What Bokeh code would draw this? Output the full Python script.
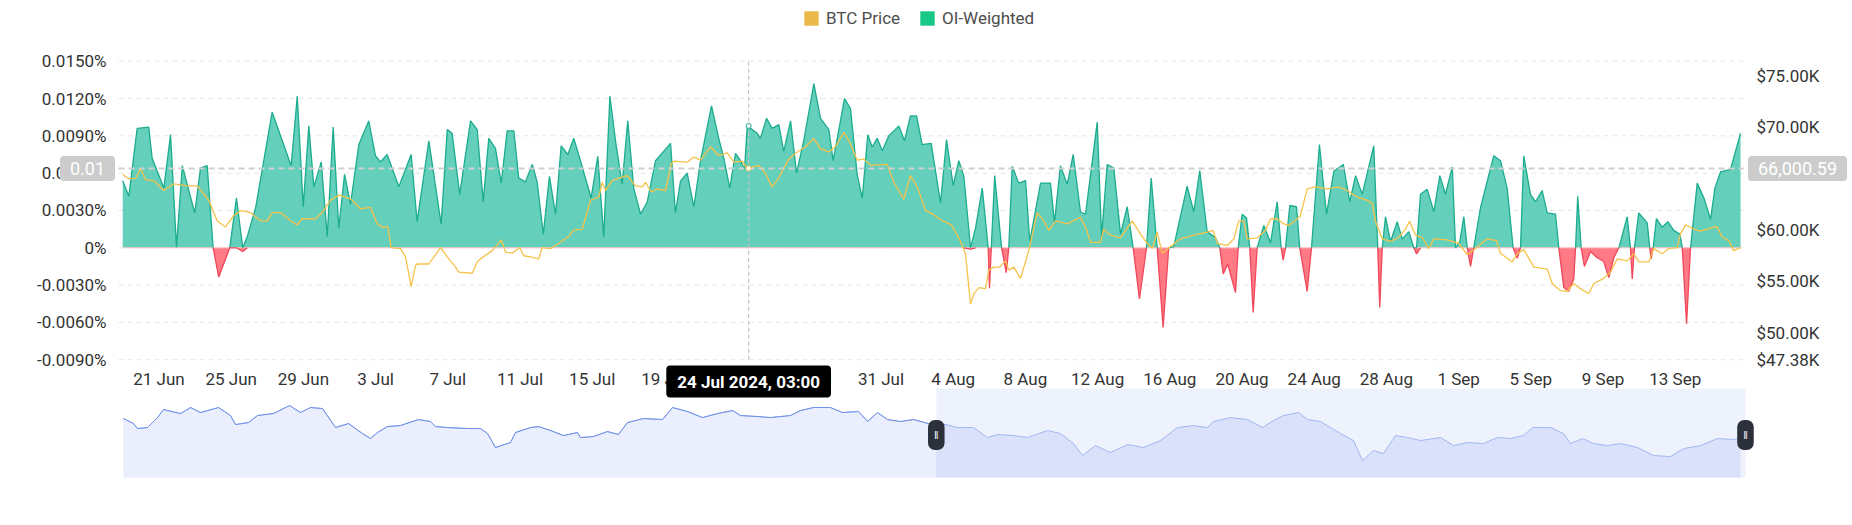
import numpy as np
import pandas as pd
from bokeh.plotting import figure
from bokeh.models import Range1d, Label, Legend, LegendItem, ColumnDataSource
from bokeh.core.properties import value
from bokeh.embed import file_html
from bokeh.resources import INLINE

# ---------------- data ----------------
# OI-weighted funding rate, in units of 0.001 %, at days after 2024-06-21 11:00
oi_day = [-2.01, -1.67, -1.21, -0.57, -0.38, 0.27, 0.64, 0.97, 1.29, 1.98,
          2.30, 2.67, 3.00, 3.31, 3.92, 4.29, 4.64, 4.89, 5.35, 6.27,
          6.83, 7.32, 7.66, 7.99, 8.30, 8.58, 8.99, 9.32, 9.65, 9.96,
          10.28, 10.61, 11.07, 11.62, 11.99, 12.27, 12.64, 13.29, 13.97, 14.30,
          14.95, 15.63, 15.97, 16.24, 16.66, 17.26, 17.63, 17.96, 18.27, 18.64,
          18.96, 19.29, 19.66, 19.93, 20.30, 20.68, 20.95, 21.29, 21.63, 21.97,
          22.28, 22.65, 22.98, 23.35, 23.94, 24.31, 24.64, 24.98, 25.29, 25.66,
          25.97, 26.30, 26.68, 27.05, 27.51, 28.34, 28.61, 28.89, 29.26, 29.63,
          30.00, 30.61, 31.01, 31.29, 31.62, 31.94, 32.22, 32.44, 32.59, 33.14,
          33.32, 33.66, 33.97, 34.34, 34.61, 34.99, 35.32, 35.72, 36.28, 36.65,
          37.11, 37.35, 37.98, 38.31, 38.68, 38.96, 39.27, 39.51, 39.79, 40.07,
          40.43, 40.99, 41.30, 41.63, 41.97, 42.28, 42.78, 43.30, 43.63, 44.00,
          44.31, 44.59, 44.96, 45.24, 45.61, 45.94, 46.01, 46.11, 46.30, 46.68,
          46.94, 47.08, 47.27, 47.63, 48.01, 48.24, 48.84, 49.39, 49.61, 49.94,
          50.32, 50.65, 51.05, 51.33, 51.98, 52.22, 52.53, 52.90, 53.27, 53.64,
          53.97, 54.32, 54.71, 54.97, 55.30, 55.63, 55.94, 56.22, 56.96, 57.33,
          57.66, 58.07, 58.53, 58.77, 58.96, 59.21, 59.64, 59.79, 60.01, 60.25,
          60.43, 60.62, 60.84, 61.21, 61.58, 61.95, 62.17, 62.28, 62.41, 62.65,
          63.02, 63.20, 63.61, 63.85, 64.29, 64.68, 65.09, 65.61, 65.97, 66.29,
          66.66, 67.30, 67.52, 67.63, 67.77, 67.95, 68.23, 68.60, 68.88, 69.24,
          69.52, 69.67, 69.89, 70.26, 70.63, 70.96, 71.27, 71.65, 71.83, 72.07,
          72.29, 72.48, 72.66, 72.84, 73.21, 73.95, 74.32, 74.69, 75.02, 75.25,
          75.43, 75.61, 75.98, 76.26, 76.63, 76.91, 77.37, 77.55, 77.83, 78.10,
          78.38, 78.48, 78.60, 78.79, 78.97, 79.31, 79.68, 80.04, 80.32, 80.60,
          80.88, 81.34, 81.52, 81.62, 81.74, 81.98, 82.45, 82.59, 82.67, 82.78,
          82.96, 83.28, 83.59, 83.92, 84.26, 84.39, 84.63, 84.85, 85.22, 85.59,
          85.96, 86.20, 86.51, 87.06, 87.62]
oi_rate = [5.4, 4.15, 9.6, 9.7, 7.2, 4.8, 9.1, 0.05, 6.6, 2.8,
           6.4, 6.6, 0, -2.35, 0, 4.0, -0.3, 0.9, 3.2, 10.9,
           8.6, 6.6, 12.2, 3.3, 9.8, 4.9, 6.9, 0.9, 9.7, 1.6,
           5.9, 3.5, 8.3, 10.2, 7.4, 6.9, 7.5, 4.9, 7.5, 2.1,
           8.6, 1.9, 9.5, 9.2, 4.3, 10.2, 9.5, 3.7, 8.8, 8.0,
           5.2, 9.4, 9.4, 5.6, 5.3, 6.7, 5.3, 1.1, 5.75, 2.7,
           8.2, 7.5, 8.8, 7.0, 4.0, 7.35, 0.9, 12.2, 8.6, 5.1,
           10.2, 4.8, 2.7, 3.7, 7.0, 8.4, 2.8, 5.35, 6.0, 3.3,
           7.0, 11.4, 8.8, 7.2, 4.8, 7.6, 7.0, 6.3, 9.8, 9.2,
           8.8, 10.4, 9.6, 9.9, 7.75, 10.2, 6.0, 8.6, 13.2, 10.4,
           9.5, 7.0, 12.0, 11.2, 5.9, 4.0, 9.1, 8.1, 8.8, 7.8,
           9.0, 9.8, 8.6, 10.6, 10.6, 8.3, 8.4, 3.6, 8.7, 5.0,
           7.0, 5.75, -0.1, 1.6, 4.8, 0, -3.25, 0, 5.8, 0,
           -2.0, 0, 6.55, 5.2, 5.4, 0.5, 5.2, 5.2, 2.0, 6.6,
           5.1, 7.5, 2.9, 2.7, 10.1, 0.9, 6.7, 6.4, 1.1, 3.3,
           0, -4.1, 0, 5.6, 0, -6.4, 0, 0.1, 4.95, 2.9,
           6.2, 1.3, 0.8, 0, -2.1, -1.3, -3.6, 0, 2.7, 2.4,
           0, -5.2, 0, 1.8, 0.4, 3.7, 0, -1.0, 0, 3.4,
           3.3, 0, -3.5, 0, 8.3, 2.7, 6.15, 6.7, 3.7, 5.8,
           4.3, 8.2, 0, -4.8, 0, 2.5, 0.5, 2.1, 0.7, 1.3,
           0, -0.5, 4.3, 4.7, 2.9, 5.8, 4.3, 6.5, 0, 0.5,
           2.5, 0, -1.5, 0, 3.2, 7.4, 7.0, 4.8, 0, -0.85,
           0, 7.4, 4.3, 3.7, 4.6, 2.8, 2.7, 0, -3.2, -3.5,
           -2.5, 0, 4.15, 0, -1.5, -0.3, -0.8, -1.1, -2.4, -0.8,
           0, 2.5, 0, -2.5, 0, 2.8, 2.0, 0, -0.9, 0,
           2.35, 1.65, 2.1, 1.4, 1.1, 0, -6.1, 0, 5.2, 4.0,
           2.3, 4.8, 6.1, 6.3, 9.2]

# BTC price (thousand USD) at days after 2024-06-21 11:00
price_day = [-2.01, -1.67, -1.30, -1.02, -0.75, -0.29, 0.27, 0.82, 1.56, 2.12,
             2.76, 3.22, 3.68, 4.14, 4.52, 5.07, 5.62, 5.99, 6.27, 6.73,
             7.29, 7.66, 7.93, 8.67, 9.04, 9.50, 9.96, 10.61, 11.16, 11.72,
             12.09, 12.37, 12.68, 12.86, 13.38, 13.66, 13.97, 14.21, 14.30, 14.95,
             15.60, 15.97, 16.43, 16.61, 17.35, 17.63, 17.81, 18.46, 18.96, 19.20,
             19.57, 19.99, 20.21, 20.58, 21.04, 21.23, 21.69, 22.15, 22.70, 22.98,
             23.45, 23.91, 24.37, 24.55, 24.74, 25.11, 25.57, 25.94, 26.40, 26.77,
             26.95, 27.27, 27.60, 28.06, 28.38, 28.52, 29.26, 29.63, 30.00, 30.55,
             31.01, 31.48, 31.85, 32.31, 32.59, 33.23, 33.60, 33.97, 34.34, 34.89,
             35.36, 35.82, 36.28, 36.65, 37.11, 37.48, 37.94, 38.31, 38.68, 39.05,
             39.42, 40.34, 40.71, 41.26, 41.63, 42.01, 42.47, 42.74, 43.30, 43.90,
             44.35, 44.68, 44.96, 45.14, 45.42, 45.79, 45.97, 46.25, 46.58, 46.90,
             47.08, 47.36, 47.73, 48.19, 48.65, 49.02, 49.30, 49.67, 50.32, 51.05,
             51.33, 51.61, 52.16, 52.34, 52.72, 53.27, 53.92, 54.38, 54.75, 55.03,
             55.30, 55.58, 56.04, 56.59, 57.33, 58.07, 58.40, 58.63, 59.18, 59.55,
             59.82, 60.10, 60.29, 60.84, 61.30, 61.58, 61.95, 62.32, 62.59, 62.87,
             63.24, 63.61, 64.07, 64.72, 65.36, 65.83, 66.38, 66.94, 67.21, 67.40,
             67.77, 68.23, 68.69, 69.06, 69.28, 69.61, 69.98, 70.35, 70.63, 71.37,
             72.01, 72.48, 72.94, 73.59, 74.10, 74.32, 74.97, 75.25, 75.61, 76.17,
             76.91, 77.19, 77.65, 78.02, 78.38, 78.75, 79.21, 79.49, 80.04, 80.42,
             80.79, 81.34, 81.71, 81.98, 82.54, 82.81, 83.28, 83.65, 84.11, 84.29,
             84.57, 85.03, 85.40, 86.32, 86.60, 86.97, 87.24, 87.62]
price_k = [65.4, 65.0, 65.0, 66.0, 64.9, 64.8, 63.85, 64.5, 64.3, 64.3,
           62.9, 60.9, 60.3, 61.4, 61.9, 61.7, 60.9, 60.9, 61.7, 61.7,
           60.9, 60.5, 61.1, 61.1, 61.7, 62.9, 63.4, 63.04, 62.07, 62.2,
           60.6, 60.3, 60.3, 58.3, 58.2, 57.4, 54.5, 56.55, 56.7, 56.7,
           58.3, 57.4, 56.4, 55.9, 55.8, 56.9, 57.2, 58.0, 59.05, 57.85,
           57.75, 58.3, 57.5, 57.4, 57.2, 58.3, 58.2, 58.7, 59.4, 60.0,
           60.1, 62.9, 63.2, 64.65, 63.85, 64.8, 65.1, 65.3, 64.3, 64.2,
           64.65, 63.7, 64.0, 63.85, 66.45, 66.7, 66.6, 67.1, 66.8, 68.1,
           67.25, 67.5, 66.6, 66.7, 65.96, 66.3, 65.5, 64.2, 65.1, 66.9,
           67.6, 68.1, 68.9, 67.9, 67.6, 68.1, 69.5, 68.4, 66.8, 66.9,
           66.3, 66.4, 64.65, 63.0, 65.3, 64.2, 61.9, 61.7, 61.0, 60.5,
           59.1, 57.7, 52.8, 53.8, 54.4, 54.3, 56.1, 56.4, 56.4, 57.0,
           56.1, 56.4, 55.3, 58.0, 61.7, 60.9, 59.96, 60.9, 60.6, 61.25,
           60.3, 58.8, 58.8, 60.1, 59.5, 59.25, 60.9, 59.6, 58.7, 58.2,
           59.8, 57.75, 58.4, 59.15, 59.5, 59.8, 59.96, 58.7, 58.5, 59.15,
           60.9, 60.9, 59.15, 59.25, 59.96, 61.1, 61.1, 60.6, 60.45, 60.8,
           61.4, 64.0, 64.2, 64.0, 64.2, 63.85, 63.2, 62.9, 62.6, 60.8,
           59.15, 58.9, 59.3, 60.1, 60.85, 59.5, 59.3, 58.2, 59.15, 59.05,
           58.7, 57.6, 58.2, 59.15, 58.98, 57.75, 56.9, 57.7, 58.1, 56.4,
           56.2, 54.8, 54.1, 54.05, 54.8, 54.3, 53.8, 54.8, 55.3, 55.9,
           57.2, 57.0, 57.7, 56.9, 56.9, 58.2, 57.7, 58.2, 58.3, 59.6,
           60.5, 60.1, 59.9, 60.35, 59.3, 58.98, 58.0, 58.3]

# navigator (data zoom) BTC price, thousand USD, days after 2024-03-20
nav_day = [0, 1.11, 1.55, 2.66, 3.77, 4.44, 6.33, 7.44, 8.55, 10.54,
           11.87, 12.43, 13.87, 14.87, 16.65, 18.42, 19.64, 20.75, 22.08, 23.53,
           24.97, 26.52, 27.41, 28.19, 29.30, 30.74, 32.74, 34.07, 34.62, 35.96,
           38.18, 39.62, 40.40, 41.28, 42.95, 43.50, 45.17, 46.06, 47.39, 48.83,
           50.38, 50.72, 52.16, 53.71, 54.93, 55.93, 57.71, 59.82, 60.93, 62.59,
           64.26, 65.92, 67.58, 68.47, 70.36, 71.80, 74.02, 75.13, 76.57, 78.46,
           79.79, 81.57, 82.57, 83.68, 84.79, 86.23, 87.67, 89.34, 91.22, 92.55,
           94.33, 95.88, 96.99, 98.77, 100.32, 102.54, 103.98, 105.43, 106.43, 107.87,
           109.53, 111.42, 113.19, 115.08, 116.97, 118.74, 120.30, 120.96, 122.85, 124.74,
           126.40, 127.62, 128.73, 130.40, 131.40, 132.84, 133.95, 135.06, 136.50, 137.50,
           138.72, 139.83, 141.16, 142.49, 143.94, 146.16, 147.60, 149.15, 150.93, 152.48,
           153.93, 155.37, 156.37, 158.37, 159.81, 160.59, 161.92, 163.14, 164.70, 166.13,
           168.02, 169.80, 171.69, 173.13, 175.02, 176.90, 178.68, 179.46]
nav_price_k = [67.36, 65.57, 63.79, 64.14, 67.71, 70.57, 69.14, 71.29, 69.5, 71.29,
               68.43, 65.21, 65.93, 68.43, 69.14, 72.0, 69.5, 71.29, 70.93, 64.14,
               65.57, 62.0, 60.21, 62.36, 64.5, 64.86, 67.0, 66.29, 64.5, 64.14,
               63.79, 63.79, 62.0, 57.0, 58.79, 62.36, 64.14, 64.5, 63.07, 61.29,
               62.36, 60.57, 60.93, 62.71, 61.64, 65.93, 67.36, 67.0, 71.29, 69.86,
               67.71, 69.14, 70.21, 68.43, 68.07, 67.71, 68.43, 70.21, 71.29, 71.29,
               69.5, 69.86, 66.29, 69.5, 67.0, 66.29, 67.0, 65.57, 65.21, 64.14,
               64.14, 60.57, 61.64, 61.29, 60.57, 63.07, 62.0, 58.43, 54.14, 57.71,
               55.21, 58.07, 57.0, 59.5, 64.14, 64.86, 64.14, 66.29, 67.71, 67.0,
               64.14, 66.64, 68.43, 69.5, 67.0, 66.29, 64.14, 62.0, 59.5, 52.36,
               55.93, 54.86, 61.29, 60.57, 59.5, 60.57, 57.71, 58.79, 58.43, 60.57,
               60.21, 61.29, 64.14, 64.14, 62.0, 58.43, 60.21, 58.43, 57.71, 58.43,
               57.0, 54.14, 53.79, 56.64, 57.71, 60.21, 59.86, 60.57]
nav_window = (90.2, 180.0)          # selected window in the navigator (days)

left_ticks = [-9, -6, -3, 0, 3, 6, 9, 12, 15]          # 0.001 % units
left_labels = ["-0.0090%", "-0.0060%", "-0.0030%", "0%", "0.0030%",
               "0.0060%", "0.0090%", "0.0120%", "0.0150%"]
price_ticks = [47.38, 50.0, 55.0, 60.0, 70.0, 75.0]    # thousand USD
price_labels = ["$47.38K", "$50.00K", "$55.00K", "$60.00K", "$70.00K", "$75.00K"]
x_tick_labels = ["21 Jun", "25 Jun", "29 Jun", "3 Jul", "7 Jul", "11 Jul", "15 Jul",
                 "19 Jul", "23 Jul", "27 Jul", "31 Jul", "4 Aug", "8 Aug", "12 Aug",
                 "16 Aug", "20 Aug", "24 Aug", "28 Aug", "1 Sep", "5 Sep", "9 Sep",
                 "13 Sep"]
x_tick_step_days = 4

cross_time = "2024-07-24 03:00"
cross_label = "24 Jul 2024, 03:00"
cross_oi = 9.8
cross_price_k = 66.00059
cross_left_text = "0.01"
cross_right_text = "66,000.59"

# ---------------- layout: page pixel calibration ----------------
W, H = 1848, 498
T0 = pd.Timestamp("2024-06-21 11:00")
T0_MS = T0.value / 1e6
DAY_MS = 86400000.0

X0_PX, PX_DAY = 158.5, 18.05          # main time axis: day 0 at x=158.5, px per day
NX0_PX, NPX_DAY = 123.0, 9.011        # navigator time axis
L_Y15, L_PX = 60.7, 12.44             # left axis: y of 0.015 %, px per 0.001 %
R_Y, R_PX = 359.3, 10.28              # right axis: y of $47.38K, px per $1K
N_Y0, N_PX = 477.0, 2.8               # navigator: bottom y, px per $1K
N_BASE = 46.3                         # navigator value at its bottom


def day_at(px):
    return (px - X0_PX) / PX_DAY


def ms(days):
    return T0_MS + np.atleast_1d(np.asarray(days, dtype=float)) * DAY_MS


def left_at(py):
    return 15 - (py - L_Y15) / L_PX


def price_at(py):
    return 47.38 - (py - R_Y) / R_PX


def nav_y_at(py):
    return N_BASE - (py - N_Y0) / N_PX


def nav_x_at(px):
    return (px - NX0_PX) / NPX_DAY


FONT = "Roboto"
TXT = "#333333"
OI_FILL, OI_LINE = "#64cfbb", "#1cac8e"
NEG_FILL, NEG_LINE = "#ff7a84", "#f0475a"
PRICE_LINE = "#f6c24a"

p = figure(width=W, height=H, title=None,
           x_range=Range1d(ms(day_at(0))[0], ms(day_at(W))[0]),
           y_range=Range1d(left_at(H), left_at(0)),
           output_backend="svg", toolbar_location=None,
           min_border_left=0, min_border_right=0,
           min_border_top=0, min_border_bottom=0)
p.extra_y_ranges = {"price": Range1d(price_at(H), price_at(0)),
                    "nav": Range1d(nav_y_at(H), nav_y_at(0))}
p.extra_x_ranges = {"nav": Range1d(nav_x_at(0), nav_x_at(W))}
p.outline_line_color = None
p.axis.visible = False
p.grid.visible = False

x_left, x_right = ms(day_at(118))[0], ms(day_at(1743))[0]

# ---- grid lines ----
n = len(left_ticks)
p.segment(x0=[x_left] * n, x1=[x_right] * n, y0=left_ticks, y1=left_ticks,
          line_color="#e6e6e6", line_dash="5 4", line_width=1)

# ---- axis tick labels ----
p.text(x=[ms(day_at(106))[0]] * n, y=left_ticks, text=left_labels,
       text_font=value(FONT), text_font_size="17px", text_color=TXT,
       text_align="right", text_baseline="middle")
p.text(x=[ms(day_at(1756))[0]] * len(price_ticks), y=price_ticks, text=price_labels,
       y_range_name="price", text_font=value(FONT), text_font_size="17px",
       text_color=TXT, text_align="left", text_baseline="middle")
p.text(x=ms([x_tick_step_days * i for i in range(len(x_tick_labels))]),
       y=[left_at(378)] * len(x_tick_labels), text=x_tick_labels,
       text_font=value(FONT), text_font_size="17px", text_color=TXT,
       text_align="center", text_baseline="middle")

# ---- funding rate area ----
v = np.array(oi_rate, dtype=float)
pos_m = v > 0
neg_m = v < 0
g_mask = pos_m | np.r_[pos_m[1:], False] | np.r_[False, pos_m[:-1]]
r_mask = neg_m | np.r_[neg_m[1:], False] | np.r_[False, neg_m[:-1]]
src = ColumnDataSource(dict(
    t=ms(oi_day), pos=np.maximum(v, 0), neg=np.minimum(v, 0),
    gl=np.where(g_mask, np.maximum(v, 0), np.nan),
    rl=np.where(r_mask, np.minimum(v, 0), np.nan)))
p.varea(x="t", y1=0, y2="pos", source=src, fill_color=OI_FILL)
p.varea(x="t", y1=0, y2="neg", source=src, fill_color=NEG_FILL)
p.segment(x0=[ms(oi_day[0])[0]], x1=[ms(oi_day[-1])[0]], y0=[0], y1=[0],
          line_color="#ffc4c8", line_width=1)
p.line(x="t", y="gl", source=src, line_color=OI_LINE, line_width=1.3)
p.line(x="t", y="rl", source=src, line_color=NEG_LINE, line_width=1.3)

# ---- BTC price ----
p.line(ms(price_day), price_k, y_range_name="price", line_color=PRICE_LINE, line_width=1.3)

# ---- crosshair ----
cx = pd.Timestamp(cross_time).value / 1e6
p.segment(x0=[cx], y0=[left_ticks[0]], x1=[cx], y1=[left_ticks[-1]],
          line_color="#c4c4c4", line_dash="4 3", line_width=1.2)
p.segment(x0=[x_left], x1=[x_right], y0=[cross_price_k], y1=[cross_price_k],
          y_range_name="price", line_color="#cfcfcf", line_dash="6 4", line_width=2)
p.scatter([cx], [cross_oi], size=5, fill_color="white", line_color=OI_LINE)
p.scatter([cx], [cross_price_k], y_range_name="price", size=5,
          fill_color="white", line_color=PRICE_LINE)

# ---- navigator ----
nd = np.array(nav_day, dtype=float)
npk = np.array(nav_price_k, dtype=float)
nav_top = nav_y_at(388)
p.quad(left=[nav_window[0]], right=[nav_window[1]], bottom=[N_BASE], top=[nav_top],
       x_range_name="nav", y_range_name="nav", fill_color="#eef2fd", line_color=None)
p.varea(x=nd, y1=N_BASE, y2=npk, x_range_name="nav", y_range_name="nav",
        fill_color="#d9e1fb")
p.quad(left=[nd[0]], right=[nav_window[0]], bottom=[N_BASE], top=[nav_top],
       x_range_name="nav", y_range_name="nav", fill_color="white", fill_alpha=0.45,
       line_color=None)
p.line(nd, npk, x_range_name="nav", y_range_name="nav", line_color="#a2b6f2", line_width=1)
un = nd <= 91.3
p.line(nd[un], npk[un], x_range_name="nav", y_range_name="nav", line_color="#6f92e9",
       line_width=1)
for hx in nav_window:
    p.add_layout(Label(x=hx, y=nav_y_at(434.5), x_range_name="nav", y_range_name="nav",
                       text="\u2016", text_color="white", text_font_size="11px",
                       text_align="center", text_baseline="middle",
                       background_fill_color="#2c303b", padding=(6, 9),
                       border_radius=7))

# ---- crosshair labels ----
p.add_layout(Label(x=cx, y=left_at(381), text=cross_label,
                   text_color="white", text_font=FONT, text_font_size="17px",
                   text_font_style="bold", text_align="center", text_baseline="middle",
                   background_fill_color="black", padding=(11, 6), border_radius=4))
p.add_layout(Label(x=ms(day_at(87))[0], y=cross_price_k, y_range_name="price",
                   text=cross_left_text, text_color="white", text_font=FONT,
                   text_font_size="18px", text_align="center", text_baseline="middle",
                   background_fill_color="#cccccc", padding=(10, 6), border_radius=4))
p.add_layout(Label(x=ms(day_at(1797))[0], y=cross_price_k, y_range_name="price",
                   text=cross_right_text, text_color="white", text_font=FONT,
                   text_font_size="18px", text_align="center", text_baseline="middle",
                   background_fill_color="#cccccc", padding=(10, 6), border_radius=4))

# ---- legend ----
lg1 = p.quad(left=[np.nan], right=[np.nan], bottom=[np.nan], top=[np.nan],
             fill_color="#ebb94b", line_color=None)
lg2 = p.quad(left=[np.nan], right=[np.nan], bottom=[np.nan], top=[np.nan],
             fill_color="#18c887", line_color=None)
legend = Legend(items=[LegendItem(label="BTC Price", renderers=[lg1]),
                       LegendItem(label="OI-Weighted", renderers=[lg2])],
                orientation="horizontal", location=(802, H - 28),
                glyph_width=18, glyph_height=18, label_height=18,
                label_standoff=6, spacing=18,
                padding=0, margin=0, border_line_color=None, background_fill_alpha=0,
                label_text_font=FONT, label_text_font_size="17px",
                label_text_color="#4d4d4d")
p.add_layout(legend)

open("out.html", "w").write(file_html(p, INLINE))
